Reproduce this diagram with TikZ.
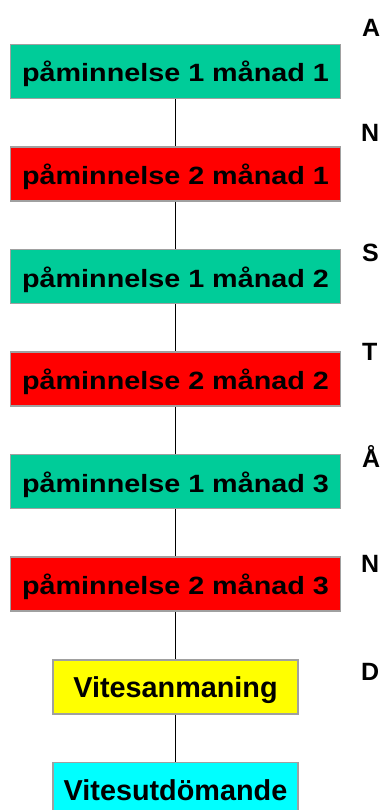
\documentclass[tikz,border=0pt]{standalone}
\usepackage{fontspec}
\setmainfont{Liberation Sans}
\newfontfamily\gras{Liberation Sans Bold}
\newfontfamily\grasetire[FakeStretch=1.15]{Liberation Sans Bold}
\definecolor{vert}{HTML}{00CC99}
\definecolor{rouge}{HTML}{FF0000}
\definecolor{jaune}{HTML}{FFFF00}
\definecolor{turquoise}{HTML}{00FFFF}
\definecolor{bord}{HTML}{A0A0A0}
\begin{document}
\begin{tikzpicture}[x=1pt,y=-1pt,
	boite/.style={draw=bord,line width=1.5pt,inner sep=0pt,minimum height=54pt,text height=21pt,text depth=0pt},
	grande/.style={boite,minimum width=330pt,font=\grasetire\fontsize{25}{30}\selectfont},
	petite/.style={boite,minimum width=245pt,font=\gras\fontsize{28.8}{34}\selectfont},
	lettre/.style={anchor=base west,inner sep=0pt,font=\gras\fontsize{25}{30}\selectfont}]
	\useasboundingbox (0,0) rectangle (384,810); % la page
	% les boites
	\node[grande,fill=vert] (p11) at (175.5,71.5) {påminnelse 1 månad 1};
	\node[grande,fill=rouge] (p21) at (175.5,174) {påminnelse 2 månad 1};
	\node[grande,fill=vert] (p12) at (175.5,276.5) {påminnelse 1 månad 2};
	\node[grande,fill=rouge] (p22) at (175.5,379) {påminnelse 2 månad 2};
	\node[grande,fill=vert] (p13) at (175.5,481.5) {påminnelse 1 månad 3};
	\node[grande,fill=rouge] (p23) at (175.5,584) {påminnelse 2 månad 3};
	\node[petite,fill=jaune] (anm) at (175.5,687) {Vitesanmaning};
	\node[petite,fill=turquoise] (utd) at (175.5,789.5) {Vitesutdömande};
	% les traits entre les boites
	\draw[line width=1.3pt] (p11)--(p21)--(p12)--(p22)--(p13)--(p23)--(anm)--(utd);
	% les lettres à droite
	\node[lettre] (l1) at (362,37) {A};
	\node[lettre] (l2) at (361,142) {N};
	\node[lettre] (l3) at (362,261) {S};
	\node[lettre] (l4) at (362,360) {T};
	\node[lettre] (l5) at (362,467) {Å};
	\node[lettre] (l6) at (361,572) {N};
	\node[lettre] (l7) at (361,680) {D};
\end{tikzpicture}
\end{document}
